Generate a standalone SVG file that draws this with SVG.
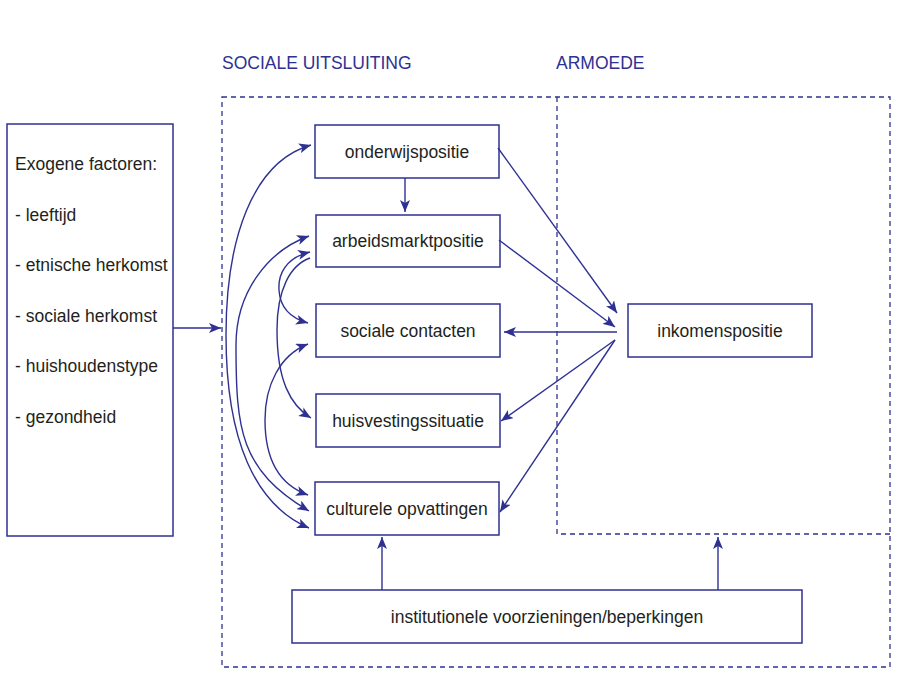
<svg xmlns="http://www.w3.org/2000/svg" width="908" height="698" viewBox="0 0 908 698">
<defs>
<style>
.box{fill:#fff;stroke:#2e3192;stroke-width:1.5}
.lbl{font-family:"Liberation Sans",Arial,Helvetica,sans-serif;font-size:17.5px;fill:#231f20}
.hdr{font-family:"Liberation Sans",Arial,Helvetica,sans-serif;font-size:17.5px;fill:#2e3192}
.dash{fill:none;stroke:#2e3192;stroke-width:1.3;stroke-dasharray:5 4}
.con{fill:none;stroke:#2e3192;stroke-width:1.4}
.arr{marker-end:url(#ah)}
.bi{marker-start:url(#ah);marker-end:url(#ah)}
</style>
<marker id="ah" viewBox="0 0 12 10" refX="12" refY="5" markerWidth="12" markerHeight="10" markerUnits="userSpaceOnUse" orient="auto-start-reverse">
<path d="M0,0 L12,5 L0,10 L3,5 z" fill="#2e3192"/>
</marker>
</defs>
<rect width="908" height="698" fill="#fff"/>

<g id="regions">
<rect class="dash" x="222" y="97" width="668" height="570"/>
<path class="dash" d="M557,97 V534 H890"/>
<text class="hdr" x="222" y="69">SOCIALE UITSLUITING</text>
<text class="hdr" x="556" y="69">ARMOEDE</text>
</g>

<g id="exogeen">
<rect class="box" x="7" y="124" width="166" height="412"/>
<text class="lbl" x="15" y="170">Exogene factoren:</text>
<text class="lbl" x="15" y="220.5">- leeftijd</text>
<text class="lbl" x="15" y="271">- etnische herkomst</text>
<text class="lbl" x="15" y="321.5">- sociale herkomst</text>
<text class="lbl" x="15" y="372">- huishoudenstype</text>
<text class="lbl" x="15" y="422.5">- gezondheid</text>
</g>

<g id="onderwijspositie">
<rect class="box" x="315" y="125" width="184" height="53"/>
<text class="lbl" x="407" y="157.5" text-anchor="middle">onderwijspositie</text>
</g>
<g id="arbeidsmarktpositie">
<rect class="box" x="316" y="215" width="184" height="52"/>
<text class="lbl" x="408" y="247" text-anchor="middle">arbeidsmarktpositie</text>
</g>
<g id="sociale-contacten">
<rect class="box" x="316" y="304" width="184" height="53"/>
<text class="lbl" x="408" y="336.5" text-anchor="middle">sociale contacten</text>
</g>
<g id="huisvestingssituatie">
<rect class="box" x="316" y="394" width="184" height="53"/>
<text class="lbl" x="408" y="426.5" text-anchor="middle">huisvestingssituatie</text>
</g>
<g id="culturele-opvattingen">
<rect class="box" x="315" y="482" width="184" height="53"/>
<text class="lbl" x="407" y="514.5" text-anchor="middle">culturele opvattingen</text>
</g>
<g id="inkomenspositie">
<rect class="box" x="628" y="304" width="184" height="53"/>
<text class="lbl" x="720" y="336.5" text-anchor="middle">inkomenspositie</text>
</g>
<g id="institutioneel">
<rect class="box" x="292" y="590" width="510" height="53"/>
<text class="lbl" x="547" y="622.5" text-anchor="middle">institutionele voorzieningen/beperkingen</text>
</g>

<g id="connectors">
<path class="con arr" d="M173,328 H221"/>
<path class="con arr" d="M405,178 V212"/>
<path class="con arr" d="M498,148 L617,313"/>
<path class="con arr" d="M499,240 L615,327"/>
<path class="con arr" d="M617,332 H504"/>
<path class="con arr" d="M615,340 L501,421"/>
<path class="con arr" d="M615,340 L500,512"/>
<path class="con arr" d="M382,590 V537"/>
<path class="con arr" d="M718,590 V537"/>
<path class="con bi" d="M311,145 C252,162 226,240 226,335 C226,440 255,505 309,528"/>
<path class="con bi" d="M309,236 C270,250 236,290 236,345 C236,430 240,470 309,511"/>
<path class="con bi" d="M308,344 C280,355 265,385 265,420 C265,460 280,485 308,495"/>
<path class="con bi" d="M310,252 C285,258 278,275 279,290 C280,308 290,318 308,323"/>
<path class="con arr" d="M310,258 C290,265 277,290 277,330 C277,380 290,405 311,418"/>
</g>
</svg>
